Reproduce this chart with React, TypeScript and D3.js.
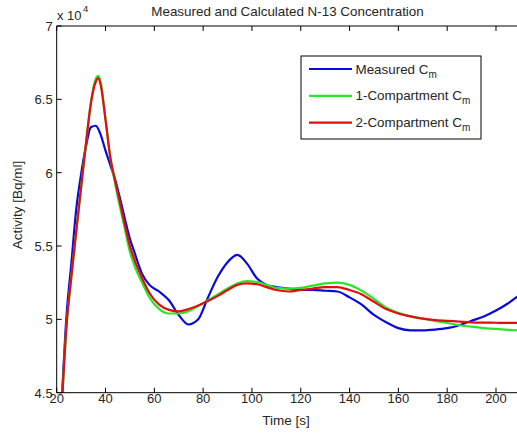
import React from "react";
import * as d3 from "d3";

const times = [22, 24, 26, 28, 30, 32, 34, 36, 37, 38, 40, 42, 44, 46, 48, 50, 52, 55, 58, 62, 66, 70, 74, 78, 82, 86, 90, 94, 98, 102, 106, 110, 115, 120, 125, 130, 135, 140, 145, 150, 155, 160, 165, 170, 175, 180, 185, 190, 195, 200, 205, 210];

const measured = [4.42, 5.02, 5.38, 5.75, 5.99, 6.18, 6.31, 6.32, 6.30, 6.26, 6.15, 6.05, 5.95, 5.82, 5.68, 5.55, 5.45, 5.31, 5.235, 5.19, 5.13, 5.03, 4.965, 5.0, 5.15, 5.29, 5.39, 5.44, 5.38, 5.28, 5.235, 5.22, 5.21, 5.2, 5.2, 5.195, 5.19, 5.15, 5.1, 5.03, 4.98, 4.94, 4.925, 4.925, 4.93, 4.94, 4.96, 4.99, 5.02, 5.06, 5.11, 5.17];

const oneComp = [4.38, 4.95, 5.29, 5.6, 5.9, 6.2, 6.48, 6.64, 6.66, 6.62, 6.37, 6.1, 5.92, 5.76, 5.61, 5.46, 5.36, 5.25, 5.15, 5.07, 5.04, 5.04, 5.055, 5.09, 5.13, 5.17, 5.21, 5.245, 5.26, 5.255, 5.235, 5.215, 5.21, 5.215, 5.23, 5.245, 5.25, 5.235, 5.195, 5.14, 5.08, 5.045, 5.02, 5.005, 4.99, 4.975, 4.96, 4.95, 4.94, 4.935, 4.928, 4.925];

const twoComp = [4.38, 4.95, 5.29, 5.6, 5.9, 6.2, 6.47, 6.62, 6.645, 6.6, 6.36, 6.1, 5.94, 5.79, 5.64, 5.5, 5.4, 5.28, 5.18, 5.1, 5.065, 5.055, 5.07, 5.095, 5.125, 5.16, 5.2, 5.235, 5.245, 5.24, 5.22, 5.2, 5.19, 5.2, 5.21, 5.22, 5.22, 5.2, 5.17, 5.12, 5.07, 5.04, 5.02, 5.005, 4.995, 4.99, 4.985, 4.98, 4.978, 4.977, 4.976, 4.976];

const xTicks = [20, 40, 60, 80, 100, 120, 140, 160, 180, 200];
const yTicks = [4.5, 5, 5.5, 6, 6.5, 7];
const yTickLabels = ["4.5", "5", "5.5", "6", "6.5", "7"];

const seriesNames = ["Measured C", "1-Compartment C", "2-Compartment C"];
const seriesColors = ["#0a0ad8", "#2be52b", "#e01010"];

const W = 517;
const H = 435;
const left = 56.7;
const top = 26;
const bottom = 392.7;
const right = 520.4;

export default function App() {
  const x = d3.scaleLinear().domain([20, 210]).range([left, right]);
  const y = d3.scaleLinear().domain([4.5, 7]).range([bottom, top]);
  const series = [measured, oneComp, twoComp];
  const line = d3
    .line<number>()
    .x((_, i) => x(times[i]))
    .y((d) => y(d))
    .curve(d3.curveMonotoneX);

  const font = "'Liberation Sans', Arial, sans-serif";
  const tc = "#262626";

  return (
    <svg
      width={W}
      height={H}
      style={{ position: "absolute", left: 0, top: 0, background: "#fff" }}
      fontFamily={font}
    >
      <rect x={0} y={0} width={W} height={H} fill="#fff" />
      <defs>
        <clipPath id="plotclip">
          <rect x={left} y={top} width={right - left} height={bottom - top} />
        </clipPath>
      </defs>
      <text x={287.5} y={15.5} textAnchor="middle" fontSize={13.4} fill={tc}>
        Measured and Calculated N-13 Concentration
      </text>
      <text x={57} y={19.5} fontSize={13} fill={tc}>
        x 10
      </text>
      <text x={83} y={12} fontSize={9.5} fill={tc}>
        4
      </text>
      <g clipPath="url(#plotclip)">
        {series.map((s, i) => (
          <path
            key={i}
            d={line(s) || ""}
            fill="none"
            stroke={seriesColors[i]}
            strokeWidth={2.2}
            strokeLinejoin="round"
          />
        ))}
      </g>
      {/* axes box */}
      <line x1={left} x2={left} y1={top} y2={bottom} stroke="#000" strokeWidth={1} />
      <line x1={left} x2={W} y1={top} y2={top} stroke="#000" strokeWidth={1} />
      <line x1={left} x2={W} y1={bottom} y2={bottom} stroke="#000" strokeWidth={1} />
      {xTicks.map((t) => (
        <g key={t}>
          <line x1={x(t)} x2={x(t)} y1={bottom} y2={bottom - 5} stroke="#000" />
          <line x1={x(t)} x2={x(t)} y1={top} y2={top + 5} stroke="#000" />
          <text x={x(t)} y={bottom + 10.5} textAnchor="middle" fontSize={13} fill={tc}>
            {t}
          </text>
        </g>
      ))}
      {yTicks.map((t, i) => (
        <g key={t}>
          <line x1={left} x2={left + 5} y1={y(t)} y2={y(t)} stroke="#000" />
          <text x={left - 4} y={y(t) + 5} textAnchor="end" fontSize={13} fill={tc}>
            {yTickLabels[i]}
          </text>
        </g>
      ))}
      <text x={286} y={424.5} textAnchor="middle" fontSize={13.5} fill={tc}>
        Time [s]
      </text>
      <text
        transform={`translate(22,205) rotate(-90)`}
        textAnchor="middle"
        fontSize={13.5}
        fill={tc}
      >
        Activity [Bq/ml]
      </text>
      {/* legend */}
      <rect x={301} y={56} width={180} height={83} fill="#fff" stroke="#000" strokeWidth={1} />
      {seriesNames.map((n, i) => {
        const ly = 69 + i * 26.8;
        return (
          <g key={n}>
            <line x1={309} x2={352} y1={ly} y2={ly} stroke={seriesColors[i]} strokeWidth={2.2} />
            <text x={355.5} y={ly + 4.5} fontSize={13.4} fill={tc}>
              {n}
              <tspan fontSize={10} dy={4}>
                m
              </tspan>
            </text>
          </g>
        );
      })}
    </svg>
  );
}
